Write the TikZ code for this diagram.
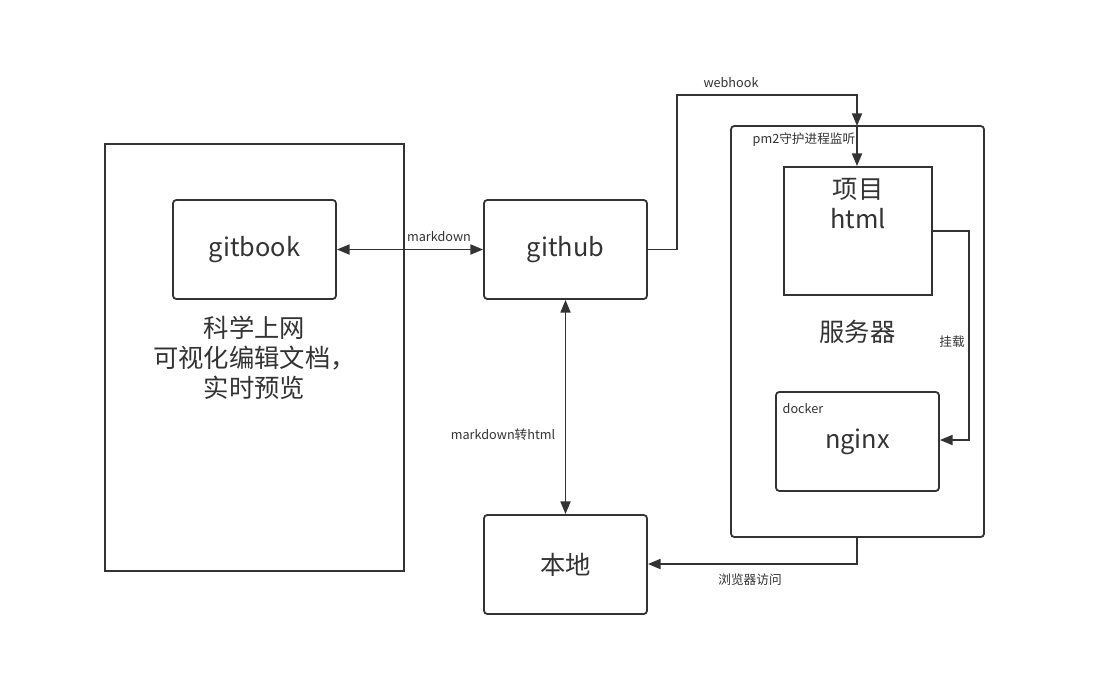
\documentclass[tikz,border=0pt]{standalone}
\usepackage{fontspec}
\setmainfont{Noto Sans CJK SC}
\usetikzlibrary{arrows.meta,positioning}
\definecolor{ink}{HTML}{333333}
\tikzset{
  box/.style={draw=ink, line width=1.35pt, inner sep=0pt, text=ink, font=\fontsize{19}{22.5}\selectfont, align=center},
  rbox/.style={box, rounded corners=2.5pt},
  lbl/.style={text=ink, font=\fontsize{9.5}{11}\selectfont, inner sep=0pt},
  conn/.style={draw=ink, line width=1.35pt},
  tip/.style={-{Triangle[length=9.5pt,width=7.5pt]}},
  tips/.style={{Triangle[length=9.5pt,width=7.5pt]}-{Triangle[length=9.5pt,width=7.5pt]}},
}
\begin{document}
\begin{tikzpicture}[x=0.75pt,y=-0.75pt]
\useasboundingbox[fill=white] (0,0) rectangle (1094,676);
% boxes
\node[box, minimum width=224.25pt, minimum height=320.25pt] (left) at (254.5,357.5) {科学上网\\可视化编辑文档，\\实时预览};
\node[rbox, minimum width=122.25pt, minimum height=74.25pt, fill=white] (gitbook) at (254.5,249.5) {\raisebox{-2pt}{gitbook}};
\node[rbox, minimum width=122.25pt, minimum height=74.25pt] (github) at (565.5,249.5) {\raisebox{-2pt}{github}};
\node[rbox, minimum width=122.25pt, minimum height=74.25pt] (local) at (565.5,564.5) {本地};
\node[rbox, minimum width=189.75pt, minimum height=308.25pt] (server) at (857.5,331.5) {服务器};
\node[box, minimum width=111pt, minimum height=96pt,
      label={[anchor=north, text=ink, align=center, font=\fontsize{19}{22.5}\selectfont, yshift=-5.5pt]north:项目\\html}] (proj) at (858,231) {};
\node[rbox, minimum width=122.25pt, minimum height=74.25pt,
      label={[lbl, anchor=north west, xshift=5.5pt, yshift=-9pt]north west:docker}] (nginx) at (857.5,441.5) {\raisebox{-2pt}{nginx}};
% connector helper coordinates
\coordinate (wh1) at (677,249.5);
\coordinate (wh2) at (677,95);
\coordinate (wh3) at (857,95);
\coordinate (srvtop) at (857,126);
\coordinate (m1) at (969,231);
\coordinate (m2) at (969,440);
\coordinate (b1) at (857,564);
% connectors
\draw[conn, tips] (gitbook.east) -- (github.west);
\draw[conn, tips] (github.south) -- (local.north);
\draw[conn, tip] (github.east) -- (wh1) -- (wh2) -- (wh3) -- (srvtop);
\draw[conn, tip] (srvtop) -- (proj.north -| srvtop);
\draw[conn, tip] (proj.east |- m1) -- (m1) -- (m2) -- (nginx.east |- m2);
\draw[conn, tip] (server.south -| b1) -- (b1) -- (local.east |- b1);
% labels
\node[lbl] (lmd) at (439,237) {markdown};
\node[lbl] (lwh) at (731,83) {webhook};
\node[lbl] (lpm) at (804,140) {pm2守护进程监听};
\node[lbl] (lgz) at (952,342) {挂载};
\node[lbl] (lmh) at (503,435) {markdown转html};
\node[lbl] (lbr) at (750,580) {浏览器访问};
\end{tikzpicture}
\end{document}
